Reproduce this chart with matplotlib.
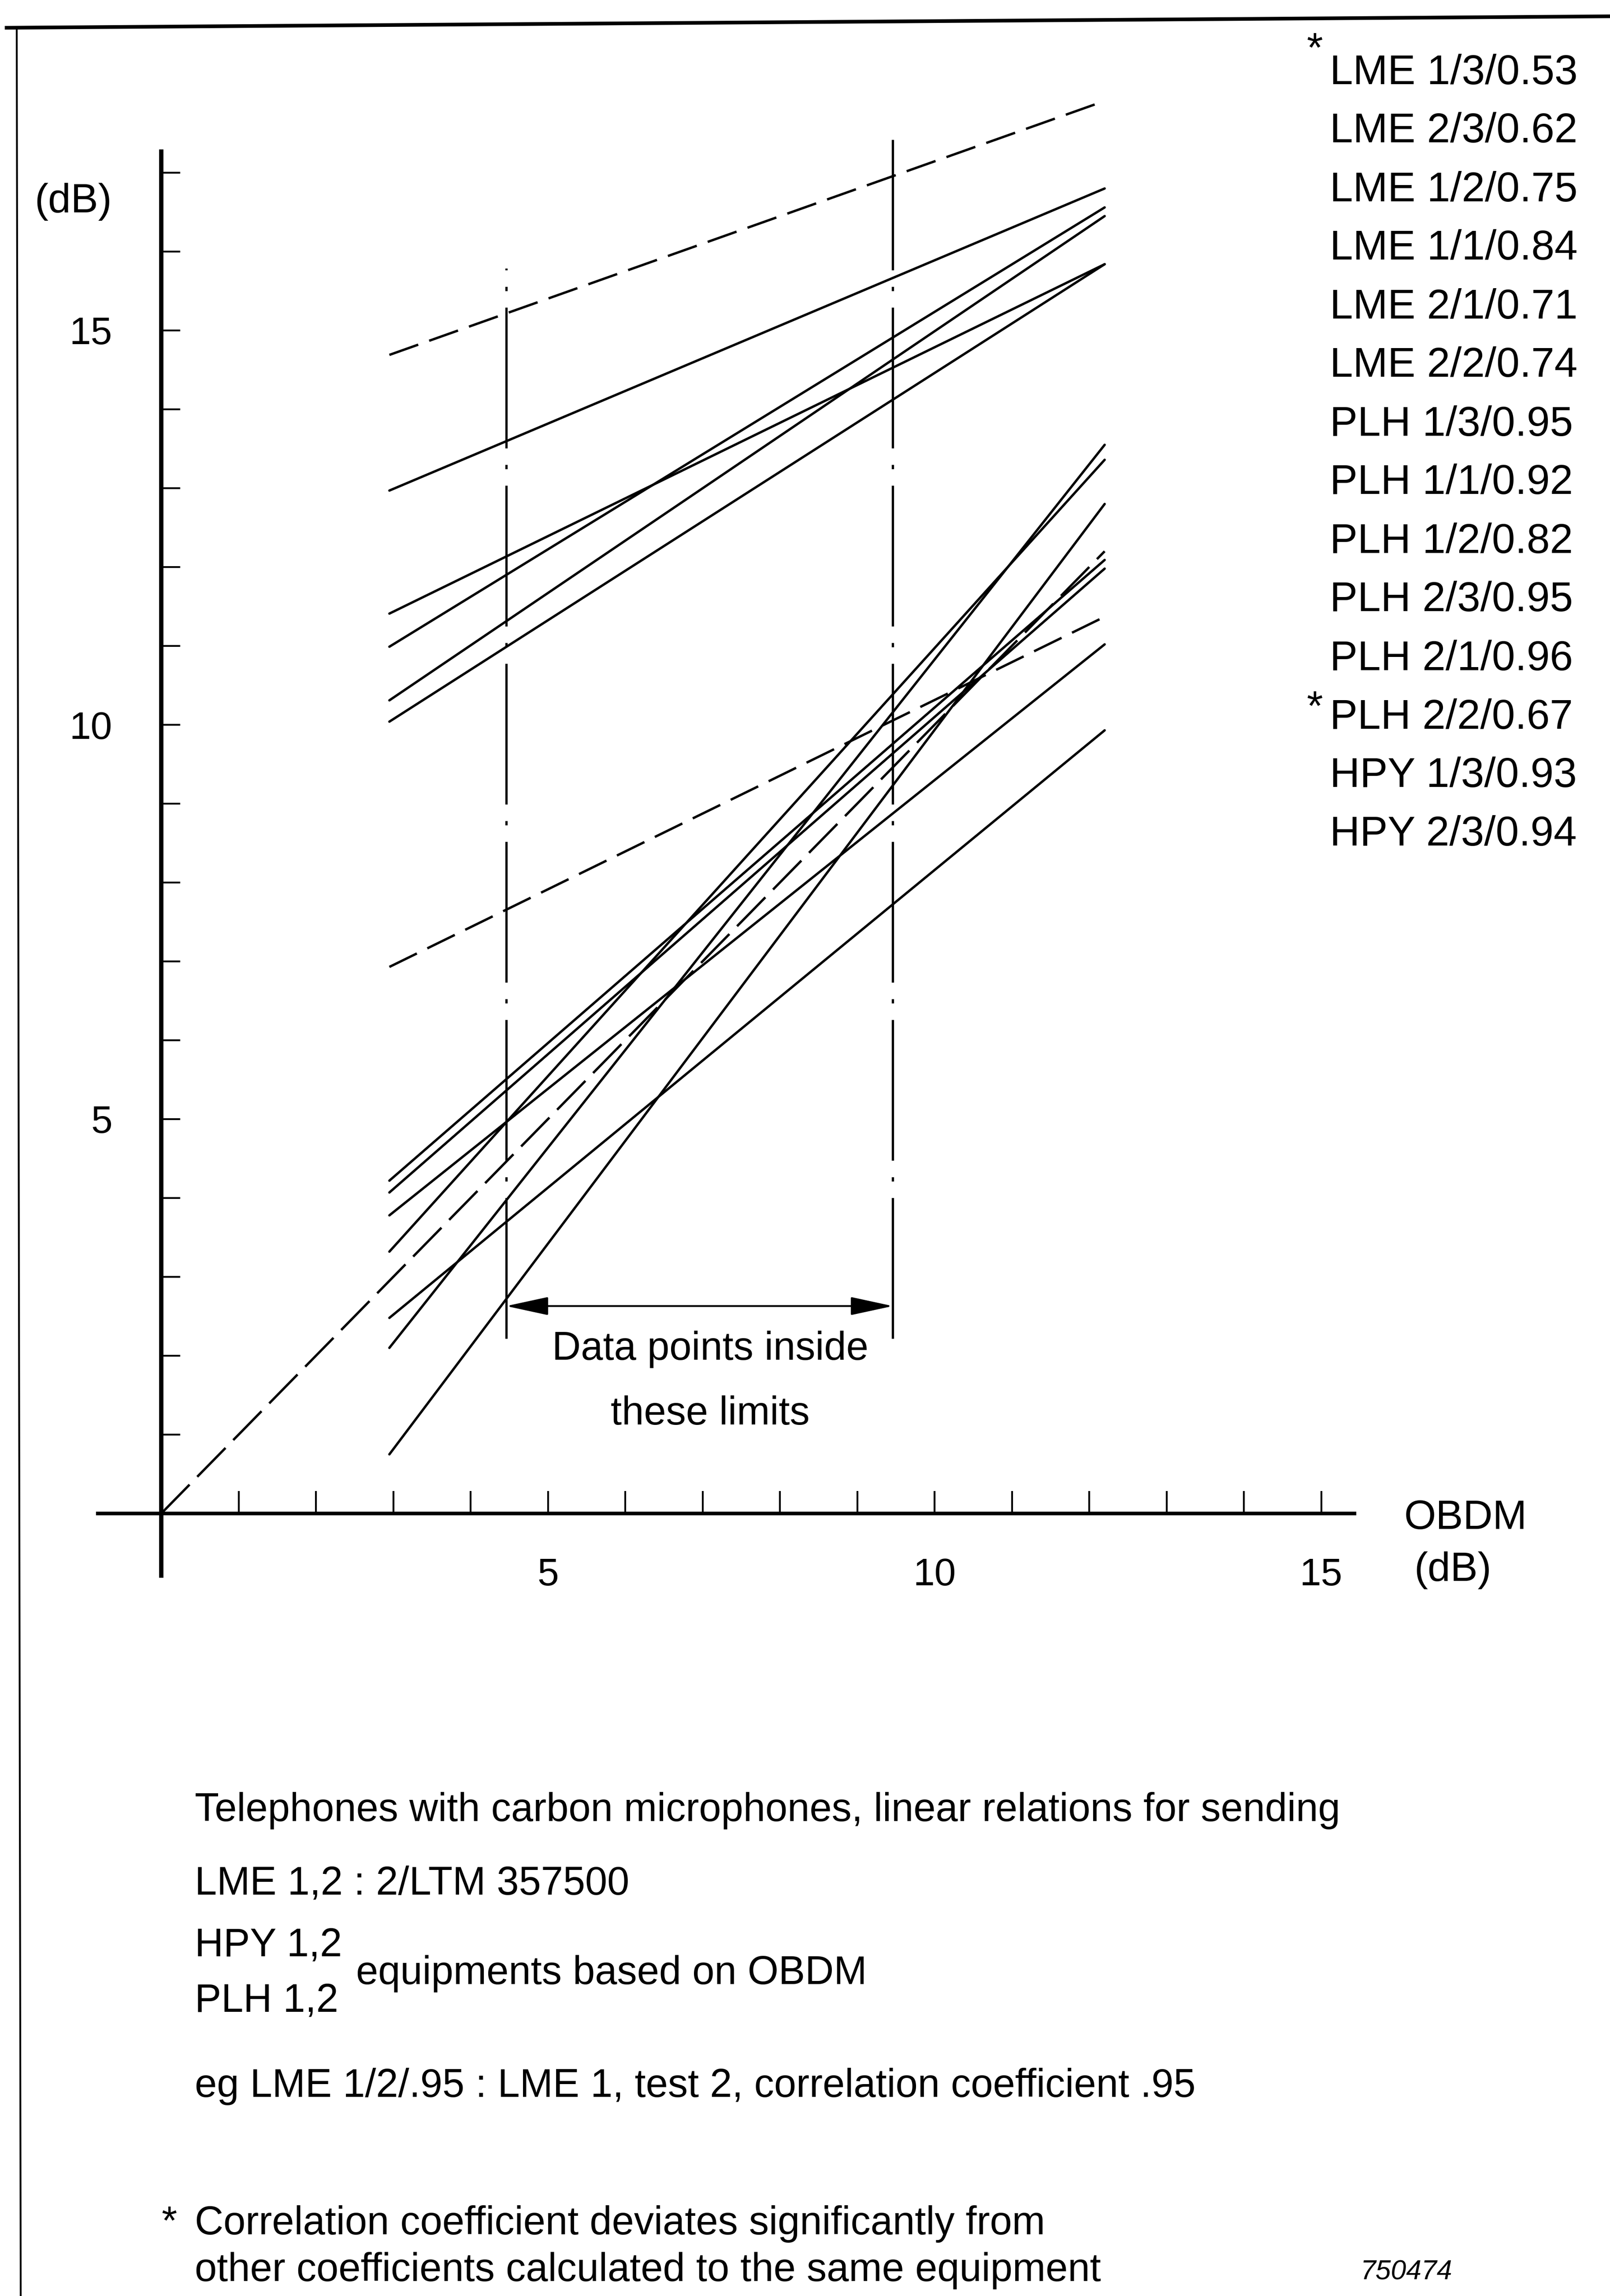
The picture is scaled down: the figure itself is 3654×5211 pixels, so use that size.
import matplotlib
matplotlib.use('Agg')
import matplotlib.pyplot as plt
from matplotlib.lines import Line2D

plt.rcParams['font.family'] = ['Liberation Sans', 'DejaVu Sans']
plt.rcParams['lines.scale_dashes'] = False

# regression lines, all drawn over the same OBDM range (dB)
x_fit = [2.95, 12.2]

# LME group (upper bundle), first one dashed
lme_start = [14.69, 12.97, 11.41, 10.99, 10.31, 10.04]
lme_end = [17.91, 16.80, 15.84, 16.56, 16.45, 15.84]
lme_dashed = [True, False, False, False, False, False]

# PLH / HPY group (lower bundle), first one dashed
other_start = [6.93, 4.22, 4.07, 3.78, 3.32, 2.48, 2.10, 0.75]
other_end = [11.37, 12.09, 11.98, 11.02, 13.36, 9.93, 13.55, 12.80]
other_dashed = [True, False, False, False, False, False, False, False]

# 1:1 reference line from the origin
ref_x = [0.0, 12.2]

# limits of the data points
limit_x = [4.46, 9.46]
limit_top = [15.79, 17.42]
limit_bottom = 2.22
arrow_y = 2.63

legend_labels = ['LME 1/3/0.53', 'LME 2/3/0.62', 'LME 1/2/0.75', 'LME 1/1/0.84',
                 'LME 2/1/0.71', 'LME 2/2/0.74', 'PLH 1/3/0.95', 'PLH 1/1/0.92',
                 'PLH 1/2/0.82', 'PLH 2/3/0.95', 'PLH 2/1/0.96', 'PLH 2/2/0.67',
                 'HPY 1/3/0.93', 'HPY 2/3/0.94']
legend_star = [True, False, False, False, False, False, False, False,
               False, False, False, True, False, False]

x_major = [5, 10, 15]
x_minor = list(range(1, 16))
y_major = [5, 10, 15]
y_minor = list(range(1, 18))

# figure layout in pixels (dpi 100)
W, H = 3654, 5211
px0, py0 = 366, 3435     # pixel position of the origin (from top)
sx, sy = 175.5, 179.0    # pixels per dB
xmin, xmax, ymin, ymax = -1.0, 16.0, -1.0, 18.0

fig = plt.figure(figsize=(W / 100, H / 100), dpi=100)
ax = fig.add_axes([(px0 + sx * xmin) / W,
                   (H - (py0 - sy * ymin)) / H,
                   sx * (xmax - xmin) / W,
                   sy * (ymax - ymin) / H])
ax.set_xlim(xmin, xmax)
ax.set_ylim(ymin, ymax)
ax.patch.set_visible(False)

for s in ['top', 'right']:
    ax.spines[s].set_visible(False)
ax.spines['left'].set_position(('data', 0))
ax.spines['bottom'].set_position(('data', 0))
ax.spines['left'].set_bounds(-0.79, 17.27)
ax.spines['bottom'].set_bounds(-0.82, 15.43)
ax.spines['left'].set_linewidth(7)
ax.spines['bottom'].set_linewidth(6)

ax.set_xticks(x_major)
ax.set_xticks(x_minor, minor=True)
ax.set_yticks(y_major)
ax.set_yticks(y_minor, minor=True)
ax.tick_params(axis='x', which='both', direction='in', length=37, width=3, pad=72, labelsize=63)
ax.tick_params(axis='y', which='both', direction='in', length=31, width=3, pad=80, labelsize=63)

lw = 3.9
dash = (50, 19)
for y0, y1, d in zip(lme_start + other_start, lme_end + other_end, lme_dashed + other_dashed):
    line, = ax.plot(x_fit, [y0, y1], color='black', lw=lw, solid_capstyle='round')
    if d:
        line.set_dashes(dash)
ax.plot(ref_x, ref_x, color='black', lw=lw, dashes=(66, 18))

for xv, top in zip(limit_x, limit_top):
    ax.plot([xv, xv], [limit_bottom, top], color='black', lw=3.8, dashes=(230, 27, 7, 27))

ax.annotate('', xy=(limit_x[0], arrow_y), xytext=(limit_x[1], arrow_y),
            arrowprops=dict(arrowstyle='<|-|>,head_length=0.6,head_width=0.13',
                            mutation_scale=100, color='black', lw=3,
                            shrinkA=0, shrinkB=0))
ax.text(7.1, 2.08, 'Data points inside', ha='center', va='center', fontsize=65)
ax.text(7.1, 1.26, 'these limits', ha='center', va='center', fontsize=65)

ax.text(-1.14, 16.63, '(dB)', ha='center', va='center', fontsize=67)
ax.text(16.07, -0.06, 'OBDM', ha='left', va='center', fontsize=67)
ax.text(16.2, -0.72, '(dB)', ha='left', va='center', fontsize=67)

# label list top right
for i, (lab, star) in enumerate(zip(legend_labels, legend_star)):
    yc = 166 + 133 * i
    fig.text(3018 / W, 1 - yc / H, lab, ha='left', va='center', fontsize=68)
    if star:
        ys = 115 if i == 0 else yc - 20
        fig.text(2984 / W, 1 - ys / H, '*', ha='center', va='center', fontsize=68)

# notes below the chart
tx = 442 / W
fs = 65
fig.text(tx, 1 - 4110 / H, 'Telephones with carbon microphones, linear relations for sending',
         ha='left', va='center', fontsize=fs)
fig.text(tx, 1 - 4276 / H, 'LME 1,2 : 2/LTM 357500', ha='left', va='center', fontsize=fs)
fig.text(tx, 1 - 4416 / H, 'HPY 1,2', ha='left', va='center', fontsize=fs)
fig.text(tx, 1 - 4542 / H, 'PLH 1,2', ha='left', va='center', fontsize=fs)
fig.text(808 / W, 1 - 4479 / H, 'equipments based on OBDM', ha='left', va='center', fontsize=fs)
fig.text(tx, 1 - 4735 / H, 'eg LME 1/2/.95 : LME 1, test 2, correlation coefficient .95',
         ha='left', va='center', fontsize=fs)
fig.text(366 / W, 1 - 5047 / H, '*', ha='left', va='center', fontsize=fs)
fig.text(tx, 1 - 5047 / H, 'Correlation coefficient deviates significantly from',
         ha='left', va='center', fontsize=fs)
fig.text(tx, 1 - 5154 / H, 'other coefficients calculated to the same equipment',
         ha='left', va='center', fontsize=fs)
fig.text(3192 / W, 1 - 5157 / H, '750474', ha='center', va='center', fontsize=45, style='italic')

# page frame (left and top edges)
fig.add_artist(Line2D([15 / W, 1.0], [1 - 63 / H, 1 - 37 / H], color='black', lw=6))
fig.add_artist(Line2D([38 / W, 47 / W], [1 - 63 / H, 0.0], color='black', lw=3))

fig.savefig('out.png', dpi=100)
